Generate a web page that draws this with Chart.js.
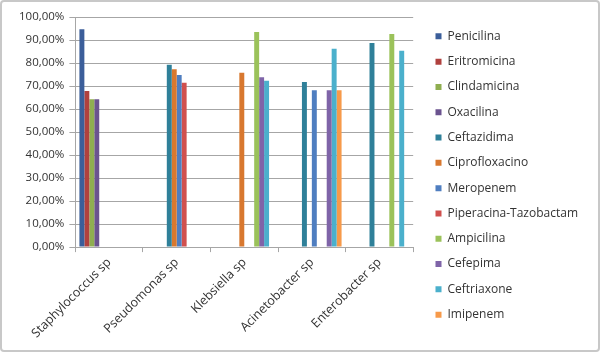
<!DOCTYPE html>
<html><head><meta charset="utf-8">
<script src="https://cdn.jsdelivr.net/npm/chart.js@4.4.1/dist/chart.umd.min.js"></script>
<style>
html,body{margin:0;padding:0;background:#fff;}
#wrap{width:600px;height:352px;box-sizing:border-box;border:2px solid #c8c8c8;border-radius:4px;position:relative;}
canvas{display:block;}
</style></head>
<body><div id="wrap"><canvas id="c" width="596" height="348"></canvas></div>
<script>
const categories = ['Staphylococcus sp','Pseudomonas sp','Klebsiella sp','Acinetobacter sp','Enterobacter sp'];
const seriesNames = ['Penicilina','Eritromicina','Clindamicina','Oxacilina','Ceftazidima','Ciprofloxacino','Meropenem','Piperacina-Tazobactam','Ampicilina','Cefepima','Ceftriaxone','Imipenem'];
const penicilina     = [94.7, null, null, null, null];
const eritromicina   = [67.8, null, null, null, null];
const clindamicina   = [64.3, null, null, null, null];
const oxacilina      = [64.3, null, null, null, null];
const ceftazidima    = [null, 79.3, null, 71.8, 88.7];
const ciprofloxacino = [null, 77.3, 75.8, null, null];
const meropenem      = [null, 74.8, null, 68.2, null];
const piperacina     = [null, 71.4, null, null, null];
const ampicilina     = [null, null, 93.5, null, 92.6];
const cefepima       = [null, null, 73.8, 68.2, null];
const ceftriaxone    = [null, null, 72.3, 86.2, 85.3];
const imipenem       = [null, null, null, 68.2, null];
const yTicks = [0,10,20,30,40,50,60,70,80,90,100];

const seriesValues = [penicilina,eritromicina,clindamicina,oxacilina,ceftazidima,ciprofloxacino,meropenem,piperacina,ampicilina,cefepima,ceftriaxone,imipenem];
const colors = ['#3B5E9A','#B0413E','#8FAE50','#6B538F','#2F8099','#D8782F','#4F7EC0','#D0504E','#9BC25A','#7F64A8','#4BB0CC','#F79A4A'];

const FONT = '"Open Sans", sans-serif';
const gridColor = '#a6a6a6';

// nudge the legend block upward so it sits where the reference places it
const legendNudge = {
  id: 'legendNudge',
  afterLayout(chart) {
    const lg = chart.legend;
    if (lg) { lg.top -= 5; lg.bottom -= 5; }
  }
};

new Chart(document.getElementById('c'), {
  type: 'bar',
  data: {
    labels: categories,
    datasets: seriesNames.map((n,i)=>({
      label: n,
      data: seriesValues[i],
      backgroundColor: colors[i],
      borderWidth: 0,
      categoryPercentage: 0.88,
      barPercentage: 1.0
    }))
  },
  plugins: [legendNudge],
  options: {
    responsive: false,
    animation: false,
    layout: { padding: { left: 12, right: 10, top: 15, bottom: 6 } },
    plugins: {
      tooltip: { enabled: false },
      legend: {
        position: 'right',
        align: 'center',
        maxWidth: 220,
        labels: {
          font: { family: FONT, size: 12 },
          color: '#333',
          boxWidth: 6,
          boxHeight: 6,
          padding: 13.3
        }
      }
    },
    scales: {
      x: {
        offset: true,
        grid: { display: true, drawOnChartArea: false, offset: true, color: gridColor, tickLength: 5 },
        border: { display: true, color: gridColor },
        ticks: {
          font: { family: FONT, size: 12.5 },
          color: '#333',
          minRotation: 45,
          maxRotation: 45,
          padding: 3
        }
      },
      y: {
        min: 0,
        max: 100,
        afterBuildTicks: (s) => { s.ticks = yTicks.map(v=>({value:v})); },
        grid: { color: gridColor, tickLength: 6 },
        border: { display: true, color: gridColor },
        ticks: {
          font: { family: FONT, size: 11.5 },
          color: '#333',
          padding: 5,
          callback: (v) => v.toFixed(2).replace('.', ',') + '%'
        }
      },
      gap: {
        axis: 'y',
        position: 'right',
        display: true,
        grid: { display: false, drawTicks: false },
        border: { display: false },
        ticks: { display: false },
        afterFit: (s) => { s.width = 9; }
      }
    }
  }
});
</script>
</body></html>
